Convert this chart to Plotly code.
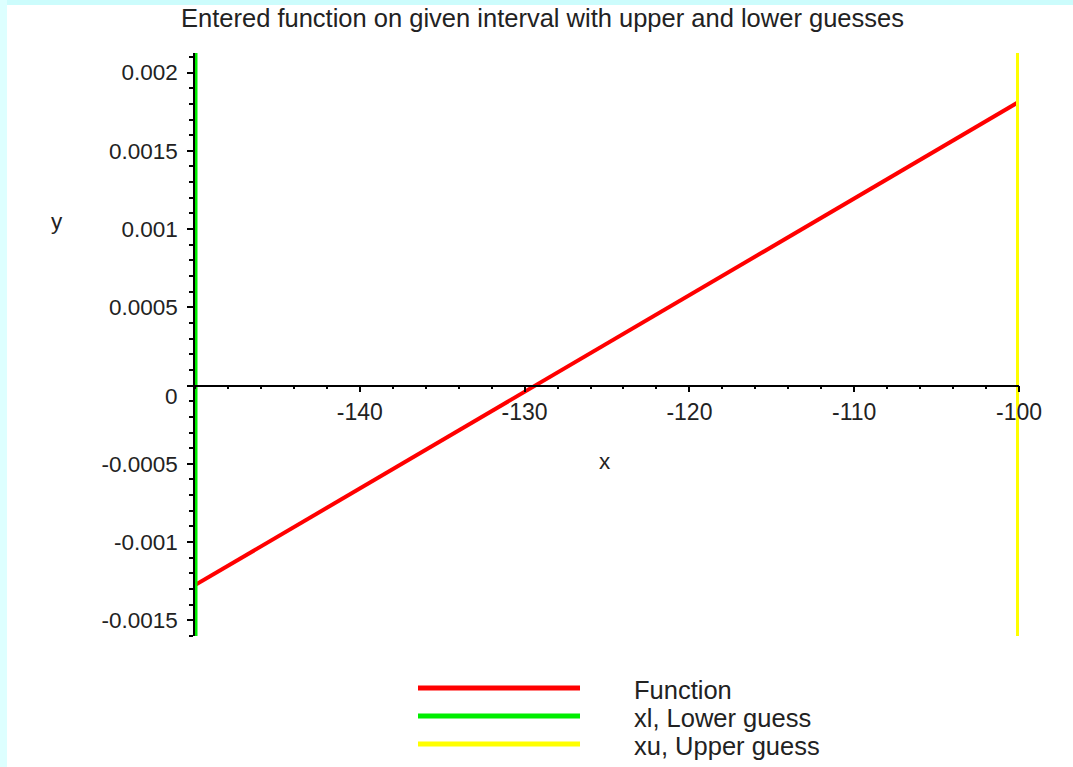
import plotly.graph_objects as go

# ---- data ----
func_x = [-150, -140, -130, -120, -110, -100]
func_y = [-0.001275, -0.000657, -0.000040, 0.000578, 0.001195, 0.001813]
lower_guess = -150
upper_guess = -100
y_range = [-0.0016, 0.002125]
x_range = [-150, -100]

x_tickvals = [-140, -130, -120, -110, -100]
x_ticktext = ["-140", "-130", "-120", "-110", "-100"]
y_tickvals = [-0.0015, -0.001, -0.0005, 0, 0.0005, 0.001, 0.0015, 0.002]
y_ticktext = ["-0.0015", "-0.001", "-0.0005", "", "0.0005", "0.001", "0.0015", "0.002"]

series_names = ["Function", "xl, Lower guess", "xu, Upper guess"]
series_colors = ["#ff0000", "#00ee00", "#ffff00"]

title_text = "Entered function on given interval with upper and lower guesses"

# ---- layout geometry ----
W, H = 1073, 767
L, R, T, B = 195, 54, 53, 131
PW, PH = W - L - R, H - T - B
FONT = "Liberation Sans"
TXT = "#222222"
FS_TICK = 22.5
FS_TEXT = 25.5


def px(xp):
    return (xp - L) / PW


def py(yp):
    return (H - B - yp) / PH


fig = go.Figure()

fig.add_trace(go.Scatter(x=func_x, y=func_y, mode="lines",
                         line=dict(color=series_colors[0], width=4),
                         name=series_names[0], cliponaxis=False))
fig.add_trace(go.Scatter(x=[lower_guess, lower_guess], y=y_range, mode="lines",
                         line=dict(color=series_colors[1], width=5),
                         name=series_names[1], cliponaxis=False))
fig.add_trace(go.Scatter(x=[upper_guess, upper_guess], y=y_range, mode="lines",
                         line=dict(color=series_colors[2], width=6),
                         name=series_names[2], cliponaxis=False))

zero_frac = (0 - y_range[0]) / (y_range[1] - y_range[0])

fig.update_layout(
    width=W, height=H,
    margin=dict(l=L, r=R, t=T, b=B, pad=0),
    paper_bgcolor="white", plot_bgcolor="white",
    showlegend=False,
    font=dict(family=FONT, size=FS_TICK, color=TXT),
    xaxis=dict(range=x_range, anchor="free", position=zero_frac,
               showgrid=False, zeroline=False, showline=True,
               linecolor="black", linewidth=1.5,
               tickmode="array", tickvals=x_tickvals, ticktext=x_ticktext,
               ticks="outside", ticklen=6, tickcolor="black", tickwidth=1.5,
               ticklabelstandoff=0,
               minor=dict(ticks="outside", ticklen=3, tickcolor="black",
                          dtick=2, tick0=-150, tickwidth=1.5, showgrid=False),
               tickfont=dict(family=FONT, size=FS_TICK + 0.5, color=TXT)),
    yaxis=dict(range=y_range, showgrid=False, zeroline=False, showline=True,
               linecolor="black", linewidth=1.5,
               tickmode="array", tickvals=y_tickvals, ticktext=y_ticktext,
               ticks="outside", ticklen=6, tickcolor="black", tickwidth=1.5,
               ticklabelstandoff=5,
               minor=dict(ticks="outside", ticklen=4, tickcolor="black",
                          dtick=0.0001, tick0=0, tickwidth=1.5, showgrid=False),
               tickfont=dict(family=FONT, size=FS_TICK, color=TXT)),
)

shapes = []
# light cyan frame strips (page border of the original screenshot)
shapes.append(dict(type="rect", xref="paper", yref="paper",
                   x0=px(0), x1=px(W), y0=py(5), y1=py(0),
                   fillcolor="#ccfcfc", line=dict(width=0), layer="below"))
shapes.append(dict(type="rect", xref="paper", yref="paper",
                   x0=px(0), x1=px(7), y0=py(H), y1=py(0),
                   fillcolor="#ddffff", line=dict(width=0), layer="below"))

annotations = []
# legend (manual, long swatches like the original)
leg_y = [688, 716, 744]
for name, col, yy in zip(series_names, series_colors, leg_y):
    shapes.append(dict(type="line", xref="paper", yref="paper",
                       x0=px(418), x1=px(580), y0=py(yy), y1=py(yy),
                       line=dict(color=col, width=5)))
    annotations.append(dict(text=name, xref="paper", yref="paper",
                            x=px(632), y=py(yy + 2), xanchor="left", yanchor="middle",
                            showarrow=False, font=dict(family=FONT, size=FS_TEXT, color=TXT)))

# title
annotations.append(dict(text=title_text, xref="paper", yref="paper",
                        x=px(542), y=py(18), xanchor="center", yanchor="middle",
                        showarrow=False, font=dict(family=FONT, size=FS_TEXT, color=TXT)))
# axis labels
annotations.append(dict(text="y", xref="paper", yref="paper", x=px(57), y=py(221),
                        xanchor="center", yanchor="middle", showarrow=False,
                        font=dict(family=FONT, size=FS_TICK, color=TXT)))
annotations.append(dict(text="x", xref="paper", yref="paper", x=px(605), y=py(461),
                        xanchor="center", yanchor="middle", showarrow=False,
                        font=dict(family=FONT, size=FS_TICK, color=TXT)))
# zero label on y axis sits slightly below the x axis
annotations.append(dict(text="0", xref="paper", yref="y", x=px(180), y=0,
                        xanchor="right", yanchor="middle", yshift=-11, showarrow=False,
                        font=dict(family=FONT, size=FS_TICK, color=TXT)))

fig.update_layout(shapes=shapes, annotations=annotations)

fig.write_html("out.html")
